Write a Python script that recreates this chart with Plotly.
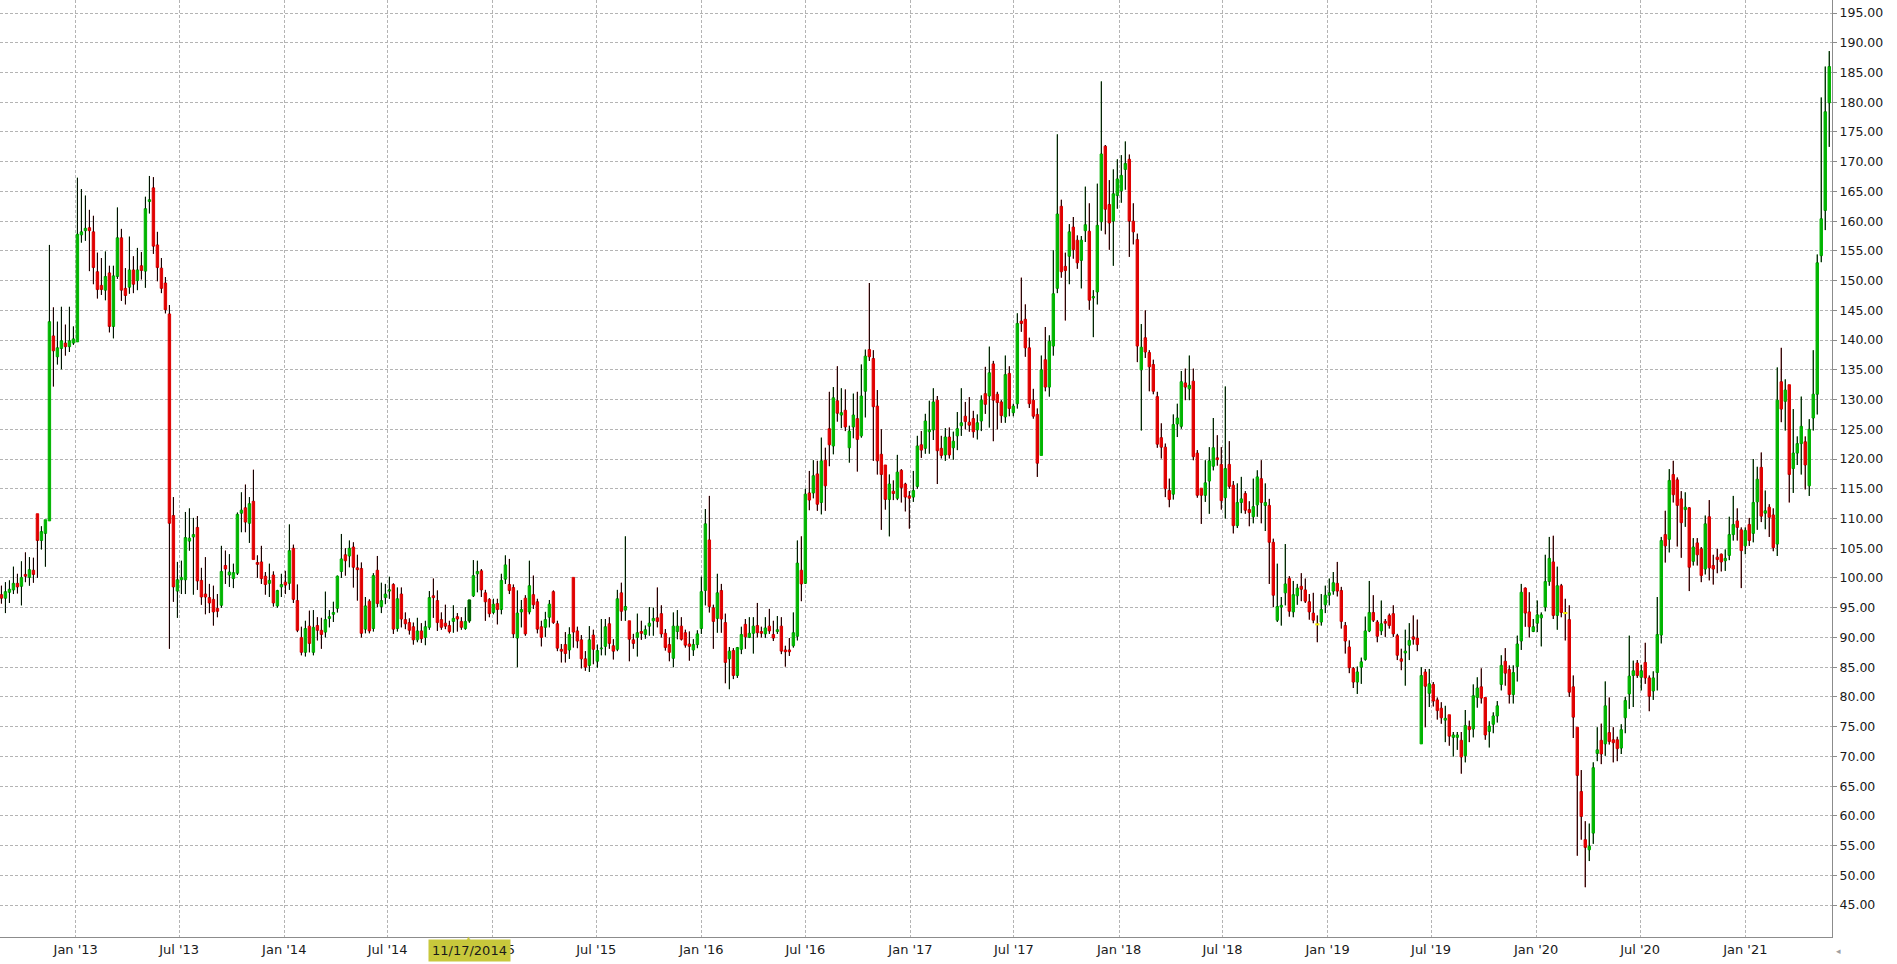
import pandas as pd
import plotly.graph_objects as go

# Weekly candles, first week ending 2012-08-24
start_date = "2012-08-24"

open_ = [
97.2, 96.6, 97.6, 98.0, 99.1, 98.6, 100.6, 100.1, 101.3, 110.8,
106.3, 107.5, 109.6, 140.7, 137.2, 138.6, 139.5, 138.9, 139.5, 139.7,
157.7, 158.4, 158.9, 158.2, 151.5, 149.2, 148.4, 151.3, 142.3, 150.7,
157.2, 148.7, 148.9, 151.8, 150.0, 152.5, 151.6, 163.3, 165.6, 156.0,
152.1, 149.6, 144.4, 110.5, 97.8, 99.7, 99.7, 106.2, 106.9, 108.5,
99.6, 97.3, 96.7, 96.4, 94.9, 95.4, 102.1, 100.5, 99.9, 100.8,
110.9, 111.8, 109.2, 112.9, 102.6, 102.7, 100.3, 99.1, 100.5, 95.3,
98.5, 99.3, 99.1, 105.0, 96.2, 90.0, 87.5, 91.9, 87.5, 92.0,
91.2, 90.9, 93.2, 93.9, 94.9, 101.1, 103.9, 103.7, 105.2, 101.7,
101.6, 91.4, 96.1, 91.5, 101.3, 95.2, 96.7, 97.8, 98.9, 91.5,
97.3, 93.0, 92.5, 91.8, 89.6, 91.1, 90.0, 91.7, 97.0, 96.2,
93.0, 92.4, 92.0, 92.7, 93.5, 92.7, 91.5, 92.8, 97.0, 100.7,
101.2, 97.5, 96.4, 94.2, 95.7, 94.7, 99.8, 98.9, 98.4, 89.9,
94.3, 96.6, 94.3, 97.2, 96.0, 91.8, 91.7, 93.4, 97.7, 92.3,
88.0, 88.8, 87.9, 100.1, 91.1, 89.6, 86.4, 85.3, 90.4, 86.0,
88.1, 88.5, 92.3, 88.6, 88.0, 97.5, 94.6, 92.8, 89.6, 90.0,
91.0, 90.5, 91.9, 92.8, 93.3, 94.0, 90.7, 88.8, 86.5, 91.0,
91.9, 90.8, 88.9, 87.9, 88.8, 91.5, 97.9, 106.4, 95.0, 93.2,
97.9, 92.5, 86.4, 87.8, 83.6, 88.0, 92.2, 90.0, 90.7, 92.0,
91.0, 90.6, 91.9, 90.5, 91.0, 91.9, 87.9, 87.9, 88.6, 90.2,
101.3, 99.1, 114.3, 114.3, 117.5, 112.7, 119.8, 125.1, 122.2, 129.8,
127.4, 128.2, 121.9, 125.4, 126.8, 123.9, 131.4, 138.4, 136.9, 128.9,
120.8, 119.0, 113.2, 114.6, 113.4, 118.1, 115.8, 113.8, 113.6, 115.4,
122.4, 121.8, 124.6, 124.9, 129.9, 121.8, 120.7, 123.7, 121.9, 123.9,
125.6, 127.2, 126.2, 126.8, 124.9, 126.4, 131.0, 130.6, 136.0, 130.9,
129.6, 127.1, 134.4, 127.8, 129.3, 143.2, 143.5, 138.7, 129.9, 127.5,
120.6, 136.7, 132.1, 139.0, 148.7, 162.5, 152.4, 154.1, 159.0, 156.8,
153.4, 158.4, 158.3, 147.1, 148.1, 159.9, 172.6, 162.8, 160.0, 164.3,
165.1, 168.7, 170.4, 160.0, 156.9, 135.0, 140.4, 137.9, 135.9, 130.5,
123.6, 122.0, 114.7, 114.1, 125.9, 125.5, 132.8, 131.8, 133.1, 121.0,
115.1, 113.9, 116.3, 118.8, 120.2, 119.1, 113.5, 119.1, 115.6, 108.8,
112.7, 114.2, 111.5, 110.3, 112.3, 116.7, 112.2, 112.2, 106.0, 92.9,
95.1, 97.5, 99.9, 94.3, 97.0, 98.6, 98.0, 96.0, 94.1, 92.2,
92.6, 95.5, 97.1, 97.8, 99.1, 97.9, 92.0, 88.4, 84.8, 82.5,
85.0, 86.3, 91.1, 94.2, 92.6, 91.1, 92.7, 93.7, 94.0, 90.3,
86.4, 87.4, 88.7, 90.1, 89.9, 72.1, 84.2, 80.6, 82.1, 79.5,
78.1, 76.1, 77.0, 73.2, 73.2, 72.7, 70.1, 75.0, 74.6, 79.9,
81.7, 79.9, 74.2, 75.4, 76.8, 82.1, 86.0, 84.6, 80.4, 85.1,
89.4, 98.3, 94.3, 91.0, 92.4, 93.3, 95.1, 99.4, 102.7, 93.7,
98.7, 94.1, 93.0, 81.7, 74.9, 64.1, 56.0, 54.3, 57.1, 70.5,
72.7, 72.1, 74.0, 72.8, 72.8, 71.4, 76.5, 80.5, 83.6, 85.7,
83.3, 85.8, 83.2, 81.0, 84.1, 90.4, 107.3, 106.5, 117.4, 116.5,
113.3, 111.5, 111.8, 102.8, 105.9, 104.9, 101.5, 110.3, 102.1, 103.5,
104.0, 102.9, 103.8, 107.3, 109.6, 108.1, 105.4, 109.0, 107.5, 112.8,
118.6, 110.9, 111.9, 110.6, 105.7, 133.0, 129.7, 132.5, 118.4, 121.0,
122.6, 122.9, 115.5, 126.9, 130.9, 154.2, 161.8, 179.9,
]

high = [
98.7, 99.3, 99.6, 101.9, 100.7, 102.8, 104.3, 103.5, 103.4, 110.8,
108.7, 109.8, 156.0, 145.5, 143.1, 145.6, 142.6, 145.6, 142.3, 167.3,
165.4, 164.3, 161.9, 160.9, 154.7, 153.8, 154.9, 152.5, 152.5, 162.3,
158.7, 152.1, 157.4, 154.1, 155.5, 154.8, 164.1, 167.6, 167.4, 158.2,
153.8, 150.6, 145.9, 113.6, 102.7, 102.9, 111.1, 111.7, 110.1, 110.4,
101.7, 103.5, 99.0, 98.7, 97.3, 105.4, 104.6, 104.0, 102.4, 111.0,
114.4, 115.7, 113.6, 118.2, 103.8, 105.4, 101.0, 102.4, 101.1, 98.0,
100.7, 101.2, 109.0, 105.6, 98.9, 91.8, 92.8, 94.5, 94.6, 93.4,
93.3, 97.7, 94.6, 96.0, 100.4, 107.4, 105.0, 106.3, 106.0, 103.9,
102.6, 96.8, 96.4, 100.8, 103.7, 99.2, 99.0, 100.2, 99.1, 98.4,
98.4, 94.2, 93.2, 92.5, 93.3, 92.4, 92.8, 97.8, 99.9, 97.9,
94.2, 95.5, 92.8, 95.4, 94.1, 93.4, 95.1, 96.3, 103.0, 102.9,
101.5, 98.0, 96.6, 96.5, 96.5, 100.7, 103.8, 103.2, 98.9, 97.9,
96.3, 97.1, 102.9, 100.4, 96.5, 92.8, 94.3, 96.3, 97.9, 92.8,
88.9, 90.9, 91.7, 100.1, 91.8, 90.4, 87.7, 91.9, 91.3, 88.8,
93.1, 93.1, 93.4, 89.7, 98.0, 99.2, 107.0, 92.8, 90.6, 94.0,
92.8, 92.0, 95.1, 95.0, 98.4, 95.4, 91.4, 90.0, 94.2, 94.6,
93.4, 91.3, 91.0, 89.7, 91.2, 100.2, 111.6, 113.8, 95.5, 100.7,
99.0, 94.0, 88.4, 88.2, 88.4, 91.8, 93.1, 93.4, 93.4, 95.8,
91.8, 93.4, 94.8, 92.8, 93.6, 93.4, 88.6, 89.9, 94.2, 106.3,
107.0, 115.0, 118.0, 119.8, 119.7, 123.6, 121.9, 131.3, 132.1, 135.6,
131.9, 131.7, 125.6, 131.0, 131.3, 135.9, 138.4, 149.6, 138.3, 131.6,
125.0, 119.0, 117.4, 116.4, 120.7, 118.3, 116.0, 114.6, 118.0, 123.9,
124.7, 127.6, 129.8, 131.9, 130.6, 123.9, 125.2, 125.3, 124.6, 127.9,
131.9, 129.6, 130.4, 128.1, 127.5, 130.7, 135.5, 138.9, 136.5, 131.3,
129.9, 137.4, 135.6, 129.3, 144.5, 150.5, 146.0, 140.4, 131.8, 128.5,
137.4, 142.2, 140.8, 155.1, 174.6, 163.6, 154.7, 159.5, 160.7, 157.6,
157.5, 165.8, 163.0, 148.4, 166.3, 183.5, 172.8, 166.9, 168.7, 170.4,
171.1, 173.4, 171.2, 163.0, 157.9, 142.7, 145.0, 138.3, 136.7, 131.3,
126.0, 122.6, 116.7, 127.5, 129.3, 134.8, 135.2, 137.4, 135.2, 121.5,
115.1, 119.8, 122.0, 126.9, 124.0, 122.0, 132.2, 123.0, 116.3, 115.9,
117.0, 114.6, 112.9, 116.7, 118.1, 119.8, 115.9, 113.3, 106.6, 102.4,
96.8, 105.7, 100.3, 99.5, 99.0, 100.8, 99.9, 97.3, 97.5, 93.7,
97.3, 98.7, 99.9, 101.0, 102.7, 98.5, 92.6, 89.5, 85.0, 85.1,
86.6, 93.5, 99.5, 97.1, 92.9, 96.2, 93.1, 94.0, 95.4, 90.6,
88.1, 91.3, 92.4, 93.7, 93.0, 85.0, 84.7, 84.7, 82.5, 79.9,
79.1, 78.5, 77.0, 74.1, 74.1, 74.1, 77.8, 76.0, 82.1, 83.3,
84.8, 79.9, 75.9, 77.4, 79.3, 87.0, 88.2, 85.3, 85.3, 90.3,
99.0, 98.4, 97.6, 93.1, 96.2, 94.2, 103.9, 106.9, 107.1, 101.9,
99.0, 96.5, 95.4, 83.6, 74.9, 67.7, 59.1, 58.7, 69.0, 74.9,
75.5, 82.6, 79.9, 74.9, 73.3, 75.4, 80.0, 90.3, 86.1, 86.2,
85.4, 89.1, 83.6, 84.3, 96.8, 106.9, 111.3, 118.3, 119.7, 116.9,
114.6, 114.4, 111.9, 106.7, 106.7, 105.2, 110.5, 113.1, 103.9, 104.9,
104.1, 104.8, 110.3, 113.8, 111.7, 108.5, 108.5, 110.1, 120.0, 118.7,
121.1, 114.7, 112.4, 111.7, 135.4, 138.7, 133.4, 132.5, 128.4, 123.8,
130.5, 123.8, 126.7, 138.3, 154.4, 180.8, 186.0, 188.6,
]

low = [
95.7, 94.1, 95.8, 97.3, 97.4, 95.4, 99.3, 98.7, 99.2, 100.0,
104.8, 101.9, 109.6, 132.2, 135.9, 135.1, 137.4, 138.0, 139.2, 139.7,
156.4, 156.7, 151.6, 149.4, 147.0, 147.6, 146.7, 141.3, 140.3, 150.3,
146.6, 146.0, 147.8, 147.9, 148.4, 150.2, 148.8, 161.3, 154.5, 149.9,
147.9, 144.5, 88.1, 96.0, 93.3, 97.3, 97.3, 104.6, 97.2, 98.0,
95.5, 93.9, 94.1, 92.0, 93.4, 95.0, 99.0, 98.5, 98.3, 100.5,
107.7, 107.7, 105.9, 103.1, 100.0, 99.0, 97.2, 96.8, 95.2, 95.0,
96.8, 97.3, 98.0, 95.8, 90.9, 87.0, 86.8, 87.5, 87.0, 89.5,
88.1, 90.0, 91.7, 92.6, 94.2, 100.0, 100.4, 101.8, 98.4, 96.2,
90.0, 90.7, 90.7, 91.0, 95.1, 94.1, 95.6, 96.5, 90.6, 91.0,
91.7, 91.4, 90.5, 88.8, 89.2, 89.1, 88.7, 91.3, 93.3, 91.1,
91.3, 91.4, 90.7, 90.8, 91.0, 91.3, 91.3, 92.5, 96.8, 97.6,
96.8, 92.8, 93.4, 93.9, 92.2, 93.9, 99.0, 97.3, 89.9, 85.0,
91.7, 90.3, 93.9, 94.8, 90.7, 88.5, 90.1, 91.7, 92.3, 87.7,
85.8, 85.8, 86.4, 88.3, 88.2, 84.8, 84.4, 84.2, 85.5, 84.9,
87.0, 87.0, 88.1, 86.3, 87.7, 92.8, 92.8, 86.0, 88.1, 86.8,
89.6, 89.8, 90.3, 90.3, 91.7, 90.0, 87.8, 86.0, 85.0, 89.7,
89.5, 88.3, 86.1, 86.9, 88.2, 90.6, 95.4, 94.2, 88.1, 90.8,
90.8, 82.3, 81.3, 83.0, 83.2, 87.2, 88.1, 89.9, 87.3, 90.0,
90.0, 89.9, 90.6, 89.4, 90.6, 87.2, 85.1, 86.9, 88.3, 89.5,
96.1, 99.0, 111.4, 113.4, 111.3, 110.7, 111.3, 118.8, 120.8, 126.3,
125.2, 124.7, 119.4, 123.5, 117.9, 123.6, 127.0, 136.5, 119.7, 117.4,
108.1, 111.5, 107.0, 113.1, 113.1, 112.7, 111.2, 108.3, 112.8, 115.0,
120.2, 120.9, 120.9, 123.2, 115.8, 120.1, 119.7, 120.1, 119.9, 121.5,
123.9, 125.0, 124.6, 123.6, 123.3, 124.7, 127.6, 125.3, 123.0, 125.0,
126.1, 126.1, 127.2, 127.2, 128.5, 141.4, 137.2, 128.6, 126.8, 117.0,
120.6, 131.4, 130.5, 137.4, 147.9, 150.5, 143.3, 149.4, 153.7, 152.0,
148.7, 156.5, 145.1, 140.5, 146.0, 158.4, 157.8, 155.2, 152.5, 162.1,
163.1, 165.3, 154.0, 156.1, 136.3, 124.8, 137.0, 131.4, 130.9, 121.9,
120.1, 113.6, 111.9, 113.2, 123.7, 125.1, 129.9, 129.9, 119.8, 113.5,
109.1, 112.8, 110.8, 118.1, 118.9, 111.5, 110.0, 115.0, 107.5, 108.4,
110.9, 110.8, 108.7, 109.2, 110.3, 109.2, 107.9, 99.0, 95.1, 92.6,
92.0, 95.4, 93.5, 93.4, 95.5, 96.1, 95.8, 93.0, 92.4, 89.2,
92.0, 94.1, 95.4, 97.2, 96.9, 91.5, 87.3, 84.0, 81.5, 80.5,
82.2, 86.1, 90.9, 92.6, 89.2, 90.4, 90.1, 91.5, 90.1, 86.2,
84.5, 81.9, 86.2, 88.8, 87.7, 72.1, 74.9, 78.3, 78.4, 76.2,
75.5, 72.4, 71.8, 70.0, 71.1, 67.1, 69.0, 72.4, 73.2, 78.2,
78.9, 72.8, 71.5, 73.9, 75.7, 81.1, 81.9, 78.9, 78.9, 82.6,
87.9, 91.8, 90.0, 90.9, 90.9, 88.5, 94.4, 98.7, 93.1, 91.3,
93.4, 89.5, 80.0, 73.1, 53.3, 56.0, 48.0, 52.4, 55.3, 69.2,
68.7, 70.1, 72.0, 69.0, 69.2, 70.4, 73.9, 78.0, 78.3, 83.2,
81.1, 82.2, 77.6, 79.5, 81.1, 89.0, 102.6, 104.3, 112.7, 105.3,
103.4, 108.6, 97.8, 102.1, 102.1, 99.3, 100.6, 99.6, 98.9, 100.8,
101.1, 101.2, 103.0, 106.3, 106.3, 98.3, 104.0, 105.4, 106.0, 108.1,
109.4, 108.2, 106.9, 104.5, 103.7, 126.2, 124.8, 112.7, 114.3, 119.0,
117.4, 114.9, 113.8, 124.8, 127.5, 153.1, 158.5, 172.5,
]

close = [
96.6, 97.7, 98.1, 99.1, 98.5, 100.1, 100.3, 101.4, 100.6, 106.3,
107.8, 109.8, 143.1, 138.2, 138.7, 139.9, 138.9, 139.9, 140.2, 157.8,
158.2, 158.8, 158.4, 152.2, 148.5, 148.5, 150.7, 142.3, 150.8, 157.2,
148.4, 147.5, 151.8, 149.4, 151.8, 151.7, 162.1, 163.6, 155.8, 152.2,
148.7, 145.1, 109.2, 98.5, 99.7, 100.1, 106.8, 106.7, 107.3, 99.5,
96.8, 96.8, 95.8, 94.3, 94.4, 101.1, 101.5, 101.0, 100.9, 110.7,
111.4, 109.4, 112.5, 103.1, 102.3, 99.9, 98.9, 99.6, 95.8, 97.9,
98.9, 98.8, 104.6, 96.4, 91.2, 87.5, 91.5, 89.0, 91.7, 91.2,
90.5, 93.0, 93.5, 94.2, 100.3, 103.2, 102.9, 105.0, 101.8, 101.4,
90.7, 95.3, 91.1, 100.4, 95.7, 96.2, 97.3, 98.0, 91.4, 96.5,
93.1, 92.3, 91.2, 89.6, 91.1, 89.8, 91.8, 96.7, 96.7, 92.5,
91.7, 91.9, 91.0, 93.2, 93.1, 91.7, 92.7, 96.3, 100.4, 101.1,
98.0, 96.0, 94.0, 95.6, 94.7, 99.6, 102.2, 97.9, 90.6, 94.1,
94.7, 90.6, 98.7, 95.5, 91.4, 90.0, 93.0, 95.6, 92.5, 88.2,
87.7, 87.3, 90.5, 90.9, 89.4, 86.4, 85.0, 89.6, 88.0, 87.8,
88.2, 91.8, 89.0, 87.7, 96.5, 94.4, 95.2, 89.7, 89.0, 90.8,
90.7, 91.3, 92.4, 93.2, 92.7, 90.6, 88.3, 87.5, 91.9, 91.9,
89.7, 88.7, 88.5, 88.8, 90.6, 97.7, 109.1, 95.2, 92.7, 97.5,
93.1, 85.8, 87.7, 83.6, 88.3, 90.5, 90.1, 90.7, 91.9, 90.8,
90.7, 91.6, 91.1, 89.9, 91.3, 87.7, 87.6, 87.6, 90.8, 102.5,
99.0, 114.1, 113.1, 117.2, 112.4, 119.7, 115.5, 122.4, 130.3, 127.7,
127.8, 125.4, 124.7, 127.4, 123.3, 130.6, 137.3, 137.2, 128.8, 119.7,
117.4, 113.2, 115.8, 114.2, 117.8, 115.2, 113.6, 113.4, 114.7, 122.2,
121.5, 126.4, 124.9, 129.6, 121.4, 120.6, 123.7, 120.7, 123.0, 125.1,
126.1, 126.3, 125.7, 124.6, 126.1, 129.9, 129.2, 134.5, 129.9, 129.5,
127.3, 134.2, 128.5, 128.9, 142.8, 142.8, 138.7, 129.3, 127.2, 119.3,
135.0, 132.1, 139.8, 147.8, 161.2, 151.5, 151.7, 158.2, 155.2, 153.0,
156.8, 159.4, 146.7, 147.3, 159.3, 171.3, 162.0, 159.7, 164.6, 167.1,
167.7, 169.7, 160.0, 158.2, 139.0, 138.8, 138.0, 135.5, 131.4, 122.5,
122.0, 115.0, 113.2, 125.8, 126.9, 133.0, 132.1, 132.4, 120.4, 113.9,
113.9, 116.0, 119.7, 121.9, 119.9, 113.0, 118.4, 115.4, 108.8, 112.7,
113.3, 111.4, 111.0, 112.0, 117.0, 112.7, 112.7, 106.0, 97.1, 95.2,
95.4, 99.0, 94.4, 97.2, 98.3, 98.1, 96.1, 94.3, 92.9, 92.2,
94.7, 97.1, 97.5, 99.2, 97.8, 92.7, 89.4, 84.9, 82.5, 84.2,
85.9, 91.1, 94.2, 92.9, 90.2, 92.3, 92.4, 92.0, 90.6, 87.0,
86.0, 87.7, 89.5, 89.7, 88.8, 83.6, 81.8, 82.2, 79.3, 77.7,
76.5, 76.4, 73.4, 73.6, 73.6, 69.9, 75.2, 74.5, 80.2, 81.5,
79.8, 73.6, 75.1, 76.8, 78.5, 85.3, 84.0, 80.4, 84.1, 88.9,
97.6, 94.1, 91.8, 91.8, 93.8, 93.8, 99.4, 103.3, 93.7, 98.7,
94.2, 94.1, 80.8, 76.6, 66.8, 59.9, 54.7, 54.9, 68.1, 71.1,
70.4, 78.5, 72.5, 72.3, 71.3, 74.5, 79.4, 83.5, 84.4, 83.6,
84.4, 83.2, 80.1, 83.2, 90.5, 106.3, 105.4, 116.4, 114.0, 112.2,
109.3, 111.9, 101.8, 105.2, 103.9, 100.4, 109.1, 101.7, 101.5, 103.1,
102.7, 103.3, 107.3, 109.0, 108.5, 104.6, 108.0, 106.3, 112.7, 116.6,
110.4, 111.3, 110.2, 105.1, 129.9, 128.4, 131.6, 117.4, 121.0, 122.6,
125.5, 119.0, 125.0, 130.9, 153.0, 160.4, 178.4, 186.0,
]

# candles with open == close (drawn yellow) and the highlighted (hovered) candle
doji_idx = [329, 391]
hover_idx = 117
hover_label = "11/17/2014"

y_ticks = list(range(45, 200, 5))
x_ticks = ["2013-01-01", "2013-07-01", "2014-01-01", "2014-07-01", "2015-01-01",
           "2015-07-01", "2016-01-01", "2016-07-01", "2017-01-01", "2017-07-01",
           "2018-01-01", "2018-07-01", "2019-01-01", "2019-07-01", "2020-01-01",
           "2020-07-01", "2021-01-01"]
x_tick_text = ["Jan '13", "Jul '13", "Jan '14", "Jul '14", "Jan '15", "Jul '15",
               "Jan '16", "Jul '16", "Jan '17", "Jul '17", "Jan '18", "Jul '18",
               "Jan '19", "Jul '19", "Jan '20", "Jul '20", "Jan '21"]

n = len(close)
assert len(open_) == n and len(high) == n and len(low) == n, (len(open_), len(high), len(low), n)

GREEN = "#00b400"
RED = "#e00000"
DARK_GREEN = "#006000"
YELLOW = "#f0f000"
GRID = "#b4b4b4"
AXIS = "#8c8c8c"

dates = pd.date_range(start_date, periods=n, freq="7D")

fig = go.Figure()

# bodies (1px outline in body colour)
fig.add_trace(go.Candlestick(
    x=dates, open=open_, high=high, low=low, close=close,
    increasing=dict(fillcolor=GREEN, line=dict(color=GREEN, width=1)),
    decreasing=dict(fillcolor=RED, line=dict(color=RED, width=1)),
    whiskerwidth=0, showlegend=False))

# highlighted candle
h = hover_idx
fig.add_trace(go.Candlestick(
    x=[dates[h]], open=[open_[h]], high=[high[h]], low=[low[h]], close=[close[h]],
    increasing=dict(fillcolor=DARK_GREEN, line=dict(color=DARK_GREEN, width=1)),
    decreasing=dict(fillcolor=DARK_GREEN, line=dict(color=DARK_GREEN, width=1)),
    whiskerwidth=0, showlegend=False))

# black wicks outside the bodies
wx, wy = [], []
for d, o, hi, lo, c in zip(dates, open_, high, low, close):
    top, bot = max(o, c), min(o, c)
    wx += [d, d, None, d, d, None]
    wy += [top, hi, None, lo, bot, None]
fig.add_trace(go.Scatter(x=wx, y=wy, mode="lines", line=dict(color="black", width=1),
                         hoverinfo="skip", showlegend=False))

# doji marks
fig.add_trace(go.Scatter(
    x=[dates[i] for i in doji_idx], y=[close[i] for i in doji_idx], mode="markers",
    marker=dict(symbol="line-ew", size=3, line=dict(color=YELLOW, width=2)),
    showlegend=False, hoverinfo="skip"))

FONT = "DejaVu Sans"

fig.update_layout(
    width=1897, height=964,
    margin=dict(l=0, r=65, t=0, b=27),
    paper_bgcolor="white", plot_bgcolor="white",
    showlegend=False,
    boxgap=0.4, boxgroupgap=0,
    xaxis=dict(
        type="date", range=["2012-08-21 12:00", "2021-06-01 19:00"],
        rangeslider=dict(visible=False),
        tickvals=x_ticks, ticktext=x_tick_text,
        showgrid=True, gridcolor=GRID, griddash="3px,2px", gridwidth=1,
        showline=True, linecolor=AXIS, linewidth=1, ticks="",
        tickfont=dict(family=FONT, size=13, color="#1a1a1a"),
        zeroline=False,
    ),
    yaxis=dict(
        side="right", range=[39.63, 197.19],
        tickvals=y_ticks, ticktext=[f"{v:.2f}" for v in y_ticks],
        showgrid=True, gridcolor=GRID, griddash="3px,2px", gridwidth=1,
        showline=True, linecolor=AXIS, linewidth=1,
        ticks="outside", ticklen=4, tickcolor=AXIS,
        tickfont=dict(family=FONT, size=12.5, color="#1a1a1a"),
        zeroline=False,
    ),
)

# crosshair date label on the x axis
fig.add_annotation(
    x=dates[h], y=-0.0149, xref="x", yref="paper", text=hover_label,
    showarrow=False, bgcolor="#c8c83c", font=dict(family=FONT, size=13, color="#1a1a1a"),
    borderpad=3, xanchor="center", yanchor="middle")
fig.add_annotation(
    x=dates[h], y=-0.002, xref="x", yref="paper", text="▲",
    showarrow=False, font=dict(family=FONT, size=7, color="#c8c83c"),
    xanchor="center", yanchor="middle")
fig.add_annotation(
    x=1.0, y=-0.015, xref="paper", yref="paper", text="◂",
    showarrow=False, font=dict(family=FONT, size=9, color="#a0a0a0"),
    xanchor="left", yanchor="middle", xshift=2)

fig.write_html("out.html", config={"displayModeBar": False},
               post_script="document.body.style.margin='0';document.body.style.overflow='hidden';")
